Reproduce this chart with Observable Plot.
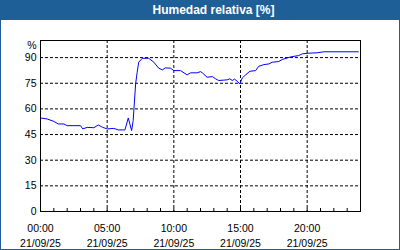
<!DOCTYPE html>
<html><head><meta charset="utf-8">
<script src="https://cdn.jsdelivr.net/npm/d3@7"></script>
<script src="https://cdn.jsdelivr.net/npm/@observablehq/plot@0.6"></script>
<style>
html,body{margin:0;padding:0;background:#fff;}
#wrap{position:relative;width:400px;height:250px;overflow:hidden;font-family:"Liberation Sans",Arial,sans-serif;}
#title{height:20px;background:#1f5f97;color:#fff;font-weight:bold;font-size:12px;line-height:20px;text-align:center;padding-left:27px;box-sizing:border-box;}
#border{position:absolute;left:0;top:0;width:400px;height:250px;border:1px solid #1f5f97;box-sizing:border-box;pointer-events:none;}
#chart svg{display:block;}
</style></head>
<body>
<div id="wrap"><div id="title"></div><div id="chart"></div><div id="border"></div></div>
<script>
const chartTitle = "Humedad relativa [%]";
const dateLabel = "2025-09-21";
const times = ["00:00","00:30","01:00","01:20","01:45","02:00","02:30","03:00","03:10","03:30",
  "04:00","04:20","04:40","05:00","05:30","05:50","06:20","06:35","06:50","06:57",
  "07:08","07:15","07:22","07:38","08:07","08:30","08:52","09:08","09:22","09:45",
  "10:00","10:30","11:00","11:15","11:45","12:00","12:08","12:30","12:53","13:08",
  "13:22","14:00","14:12","14:23","14:33","14:45","14:57","15:08","15:23","15:42",
  "16:08","16:22","16:45","17:08","17:23","17:52","18:08","18:45","19:22","19:38",
  "20:08","20:45","21:15","23:50"];
const humidity = [54.7,54.1,52.7,51.2,51.2,50.2,50.2,50.2,48.3,49.2,
  49.0,50.6,49.2,48.3,48.6,47.7,47.7,54.7,47.3,53.1,
  74.6,81.4,87.3,89.6,89.6,87.3,83.8,82.8,84.0,83.8,
  82.4,82.4,79.9,81.1,81.1,81.8,81.1,78.5,78.9,77.6,
  76.6,77.0,77.6,76.6,77.4,76.2,74.6,78.1,79.9,82.0,
  82.4,84.9,85.9,86.3,87.3,87.7,88.9,90.4,91.2,92.2,
  92.6,92.8,93.4,93.4];
const yTicks = [0,15,30,45,60,75,90];
const yUnit = "%";

document.getElementById("title").textContent = chartTitle;
const parse = d3.utcParse("%Y-%m-%d %H:%M");
const data = times.map((t,i)=>({date: parse(dateLabel+" "+t), value: humidity[i]}));
const x0 = parse(dateLabel+" 00:00");
const x1 = d3.utcDay.offset(x0,1);
const majorTicks = d3.utcHour.every(5).range(x0, x1);
const minorTicks = d3.utcHour.range(x0, x1);
const fmt = d3.utcFormat("%H:%M\n%d/%m/%y");

const chart = Plot.plot({
  width:400, height:230, marginTop:20, marginBottom:39, marginLeft:40, marginRight:40,
  style:{fontFamily:"Liberation Sans, Arial, sans-serif", fontSize:"10px", color:"#000", background:"transparent", overflow:"visible"},
  x:{type:"utc", domain:[x0,x1]},
  y:{domain:[0,100]},
  marks:[
    Plot.ruleY(yTicks.filter(d=>d>0), {stroke:"#000", strokeDasharray:"3,2"}),
    Plot.ruleX(majorTicks.filter(d=>+d>+x0), {stroke:"#000", strokeDasharray:"3,2"}),
    Plot.axisY({ticks:yTicks, tickSize:0, tickPadding:4, label:null, fontSize:10.5}),
    Plot.text([yUnit], {frameAnchor:"top-left", text:d=>d, dx:-4, dy:1, textAnchor:"end", fontSize:10.5}),
    Plot.axisX({ticks:minorTicks, tickSize:-3, tickFormat:()=>"", label:null}),
    Plot.axisX({ticks:majorTicks, tickSize:0, tickPadding:10, tickFormat:fmt, lineHeight:1.4, label:null, fontSize:10.5}),
    Plot.lineY(data, {x:"date", y:"value", stroke:"#0000ff", strokeWidth:1}),
    Plot.frame({stroke:"#000"})
  ]
});
document.getElementById("chart").appendChild(chart);
</script>
</body></html>
